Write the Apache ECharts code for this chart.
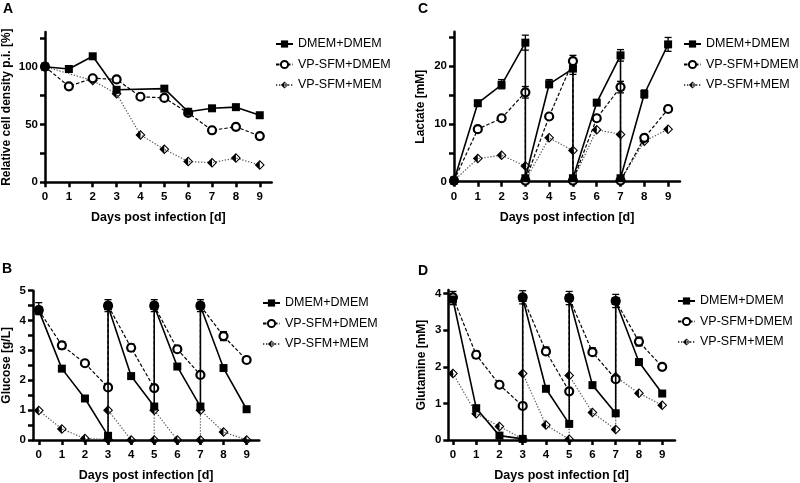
<!DOCTYPE html>
<html>
<head>
<meta charset="utf-8">
<script src="https://cdn.jsdelivr.net/npm/echarts@6/dist/echarts.min.js"></script>
<style>
  html, body { margin: 0; padding: 0; background: #fff; }
  #chart { width: 800px; height: 483px; }
</style>
</head>
<body>
<div id="chart"></div>
<script>
  // days post infection; medium exchange on day 3, 5, 7 gives two points
  var daysA = [0, 1, 2, 3, 4, 5, 6, 7, 8, 9];
  var daysFed = [0, 1, 2, 3, 3, 4, 5, 5, 6, 7, 7, 8, 9];

  // A - relative cell density [%]
  var cellDMEM   = [100, 98, 109, 80, null, 81, 61, 64, 65, 58];
  var cellVPDMEM = [100, 83, 90, 89, 74, 73, 60, 45, 48, 40];
  var cellVPMEM  = [100, null, 88, 76.5, 41, 28.5, 18, 17, 21, 15];

  // B - glucose [g/L]
  var gluDMEM   = [4.34, 2.39, 1.39, 0.14, 4.48, 2.14, 1.12, 4.49, 2.46, 1.12, 4.49, 2.41, 1.03];
  var gluVPDMEM = [4.35, 3.17, 2.57, 1.76, 4.5, 3.09, 1.74, 4.5, 3.04, 2.18, 4.5, 3.48, 2.68];
  var gluVPMEM  = [0.99, 0.37, 0.05, 0.02, 1.0, 0.0, 0.0, 1.0, 0.0, 0.0, 1.0, 0.27, 0.0];

  // C - lactate [mM]
  var lacDMEM   = [0.2, 13.6, 16.8, 24.1, 0.6, 16.9, 19.6, 0.6, 13.7, 21.9, 0.6, 15.2, 23.8];
  var lacVPDMEM = [0.2, 9.1, 11, 15.5, 0.2, 11.3, 20.9, 0.2, 11, 16.4, 0.2, 7.6, 12.6];
  var lacVPMEM  = [0.2, 4.0, 4.6, 2.7, 0.2, 7.6, 5.4, 0.2, 9.0, 8.2, 0.2, 7.0, 9.1];

  // D - glutamine [mM]
  var glnDMEM   = [3.84, 0.87, 0.12, 0.03, 3.88, 1.40, 0.44, 3.88, 1.50, 0.73, 3.80, 2.13, 1.27];
  var glnVPDMEM = [3.9, 2.33, 1.51, 0.93, 3.9, 2.42, 1.33, 3.88, 2.40, 1.66, 3.8, 2.69, 2.0];
  var glnVPMEM  = [1.82, 0.72, 0.37, 0.03, 1.82, 0.41, 0.02, 1.76, 0.75, 0.29, 1.73, 1.28, 0.95];

  // error bars [day, mean, sd]
  var errGlu = [[0, 4.4, 0.2], [3, 4.5, 0.2], [5, 4.5, 0.2], [7, 4.5, 0.2], [1, 3.17, 0.12], [4, 3.09, 0.12], [6, 3.04, 0.1], [8, 3.48, 0.15], [9, 2.68, 0.1]];
  var errLac = [[1, 13.6, 0.5], [2, 16.9, 0.8], [3, 24.1, 1.3], [4, 17, 0.7], [5, 19.6, 1.0], [7, 21.9, 1.0], [8, 15.2, 0.7], [9, 23.8, 1.2],
                [3, 15.5, 1.0], [5, 20.9, 1.0], [7, 16.4, 1.0], [9, 12.6, 0.5], [6, 11, 0.5]];
  var errGln = [[0, 3.88, 0.18], [3, 3.9, 0.18], [5, 3.88, 0.18], [7, 3.8, 0.18], [1, 2.33, 0.1], [4, 2.44, 0.1], [6, 2.42, 0.1], [8, 2.69, 0.12]];

  var names = ['DMEM+DMEM', 'VP-SFM+DMEM', 'VP-SFM+MEM'];
  var xTicks = [0, 1, 2, 3, 4, 5, 6, 7, 8, 9];

  var FONT = 'Liberation Sans, Arial, sans-serif';
  var diamondHalf = 'path://M5,0 L10,5 L5,10 L0,5 Z M5,1.5 L5,8.5 L8.5,5 Z';

  function pairs(xs, ys) {
    var out = [];
    for (var i = 0; i < xs.length; i++) {
      if (ys[i] !== null) out.push([xs[i], ys[i]]);
    }
    return out;
  }

  function mkSeries(idx, xs, a, b, c) {
    return [
      {
        name: names[2], type: 'line', xAxisIndex: idx, yAxisIndex: idx, z: 2,
        data: pairs(xs, c), symbol: diamondHalf, symbolSize: 10,
        lineStyle: { color: '#555', width: 1.2, type: [1.3, 1.7] },
        itemStyle: { color: '#000', borderWidth: 0 }
      },
      {
        name: names[1], type: 'line', xAxisIndex: idx, yAxisIndex: idx, z: 3,
        data: pairs(xs, b), symbol: 'circle', symbolSize: 8,
        lineStyle: { color: '#000', width: 1.2, type: [3.5, 2] },
        itemStyle: { color: '#fff', borderColor: '#000', borderWidth: 2.2 }
      },
      {
        name: names[0], type: 'line', xAxisIndex: idx, yAxisIndex: idx, z: 4,
        data: pairs(xs, a), symbol: 'rect', symbolSize: 8,
        lineStyle: { color: '#000', width: 1.6 },
        itemStyle: { color: '#000', borderWidth: 0 }
      }
    ];
  }

  function errSeries(idx, data) {
    return {
      type: 'custom', xAxisIndex: idx, yAxisIndex: idx, z: 1, silent: true,
      data: data,
      encode: { x: 0, y: 1 },
      renderItem: function (params, api) {
        var x = api.value(0), m = api.value(1), s = api.value(2);
        var hi = api.coord([x, m + s]), lo = api.coord([x, m - s]);
        var w = 3.5, st = { stroke: '#000', lineWidth: 1.3 };
        return {
          type: 'group', children: [
            { type: 'line', shape: { x1: hi[0], y1: hi[1], x2: lo[0], y2: lo[1] }, style: st },
            { type: 'line', shape: { x1: hi[0] - w, y1: hi[1], x2: hi[0] + w, y2: hi[1] }, style: st },
            { type: 'line', shape: { x1: lo[0] - w, y1: lo[1], x2: lo[0] + w, y2: lo[1] }, style: st }
          ]
        };
      }
    };
  }

  function xAx(idx, min, max) {
    return {
      type: 'value', gridIndex: idx, min: min, max: max,
      name: 'Days post infection [d]', nameLocation: 'middle', nameGap: 29,
      nameTextStyle: { fontFamily: FONT, fontWeight: 'bold', fontSize: 12.5, color: '#000' },
      axisLine: { onZero: false, lineStyle: { color: '#000', width: 2.5 } },
      axisTick: { customValues: xTicks, length: 5, lineStyle: { width: 2.5 } },
      axisLabel: { customValues: xTicks, margin: 9, fontFamily: FONT, fontWeight: 'bold', fontSize: 11.5, color: '#000' },
      splitLine: { show: false }
    };
  }

  function yAx(idx, max, name, gap, labels, ticks) {
    return {
      type: 'value', gridIndex: idx, min: 0, max: max,
      name: name, nameLocation: 'middle', nameGap: gap,
      nameTextStyle: { fontFamily: FONT, fontWeight: 'bold', fontSize: 12, color: '#000' },
      axisLine: { show: true, onZero: false, lineStyle: { color: '#000', width: 2.5 } },
      axisTick: { show: true, customValues: ticks, length: 5, lineStyle: { width: 2.5 } },
      axisLabel: { customValues: labels, margin: 7, fontFamily: FONT, fontWeight: 'bold', fontSize: 11.5, color: '#000' },
      splitLine: { show: false }
    };
  }

  function legend(left, top) {
    return {
      data: names, orient: 'vertical', left: left, top: top, padding: 0,
      itemWidth: 17, itemHeight: 9, itemGap: 6.5, selectedMode: false,
      textStyle: { fontFamily: FONT, fontSize: 12.5, color: '#000', lineHeight: 14 }
    };
  }

  function letter(t, x, y) {
    return { text: t, left: x, top: y, padding: 0,
      textStyle: { fontFamily: FONT, fontWeight: 'bold', fontSize: 14, color: '#000' } };
  }

  var chart = echarts.init(document.getElementById('chart'), null, { renderer: 'canvas' });

  var option = {
    backgroundColor: '#fff',
    animation: false,
    title: [letter('A', 3, 2), letter('C', 418, 2), letter('B', 2, 262), letter('D', 418, 264)],
    legend: [legend(275, 37), legend(683, 37), legend(262, 296), legend(677, 294)],
    grid: [
      { left: 45, top: 32, width: 226.7, height: 150.3 },
      { left: 454, top: 31.7, width: 226, height: 150 },
      { left: 32.7, top: 290.7, width: 226.6, height: 150 },
      { left: 448.3, top: 290, width: 226.7, height: 150.5 }
    ],
    xAxis: [xAx(0, 0, 9.5), xAx(1, 0, 9.5), xAx(2, -0.25, 9.55), xAx(3, -0.2, 9.55)],
    yAxis: [
      yAx(0, 130, 'Relative cell density p.i. [%]', 32, [0, 50, 100], [0, 25, 50, 75, 100, 125]),
      yAx(1, 26, 'Lactate [mM]', 27, [0, 10, 20], [0, 5, 10, 15, 20, 25]),
      yAx(2, 5, 'Glucose [g/L]', 20, [0, 1, 2, 3, 4, 5], [0, 0.5, 1, 1.5, 2, 2.5, 3, 3.5, 4, 4.5, 5]),
      yAx(3, 4.1, 'Glutamine [mM]', 21, [0, 1, 2, 3, 4], [0, 1, 2, 3, 4])
    ],
    series: [].concat(
      mkSeries(0, daysA, cellDMEM, cellVPDMEM, cellVPMEM),
      [errSeries(1, errLac)],
      mkSeries(1, daysFed, lacDMEM, lacVPDMEM, lacVPMEM),
      [errSeries(2, errGlu)],
      mkSeries(2, daysFed, gluDMEM, gluVPDMEM, gluVPMEM),
      [errSeries(3, errGln)],
      mkSeries(3, daysFed, glnDMEM, glnVPDMEM, glnVPMEM)
    )
  };

  chart.setOption(option);
</script>
</body>
</html>
